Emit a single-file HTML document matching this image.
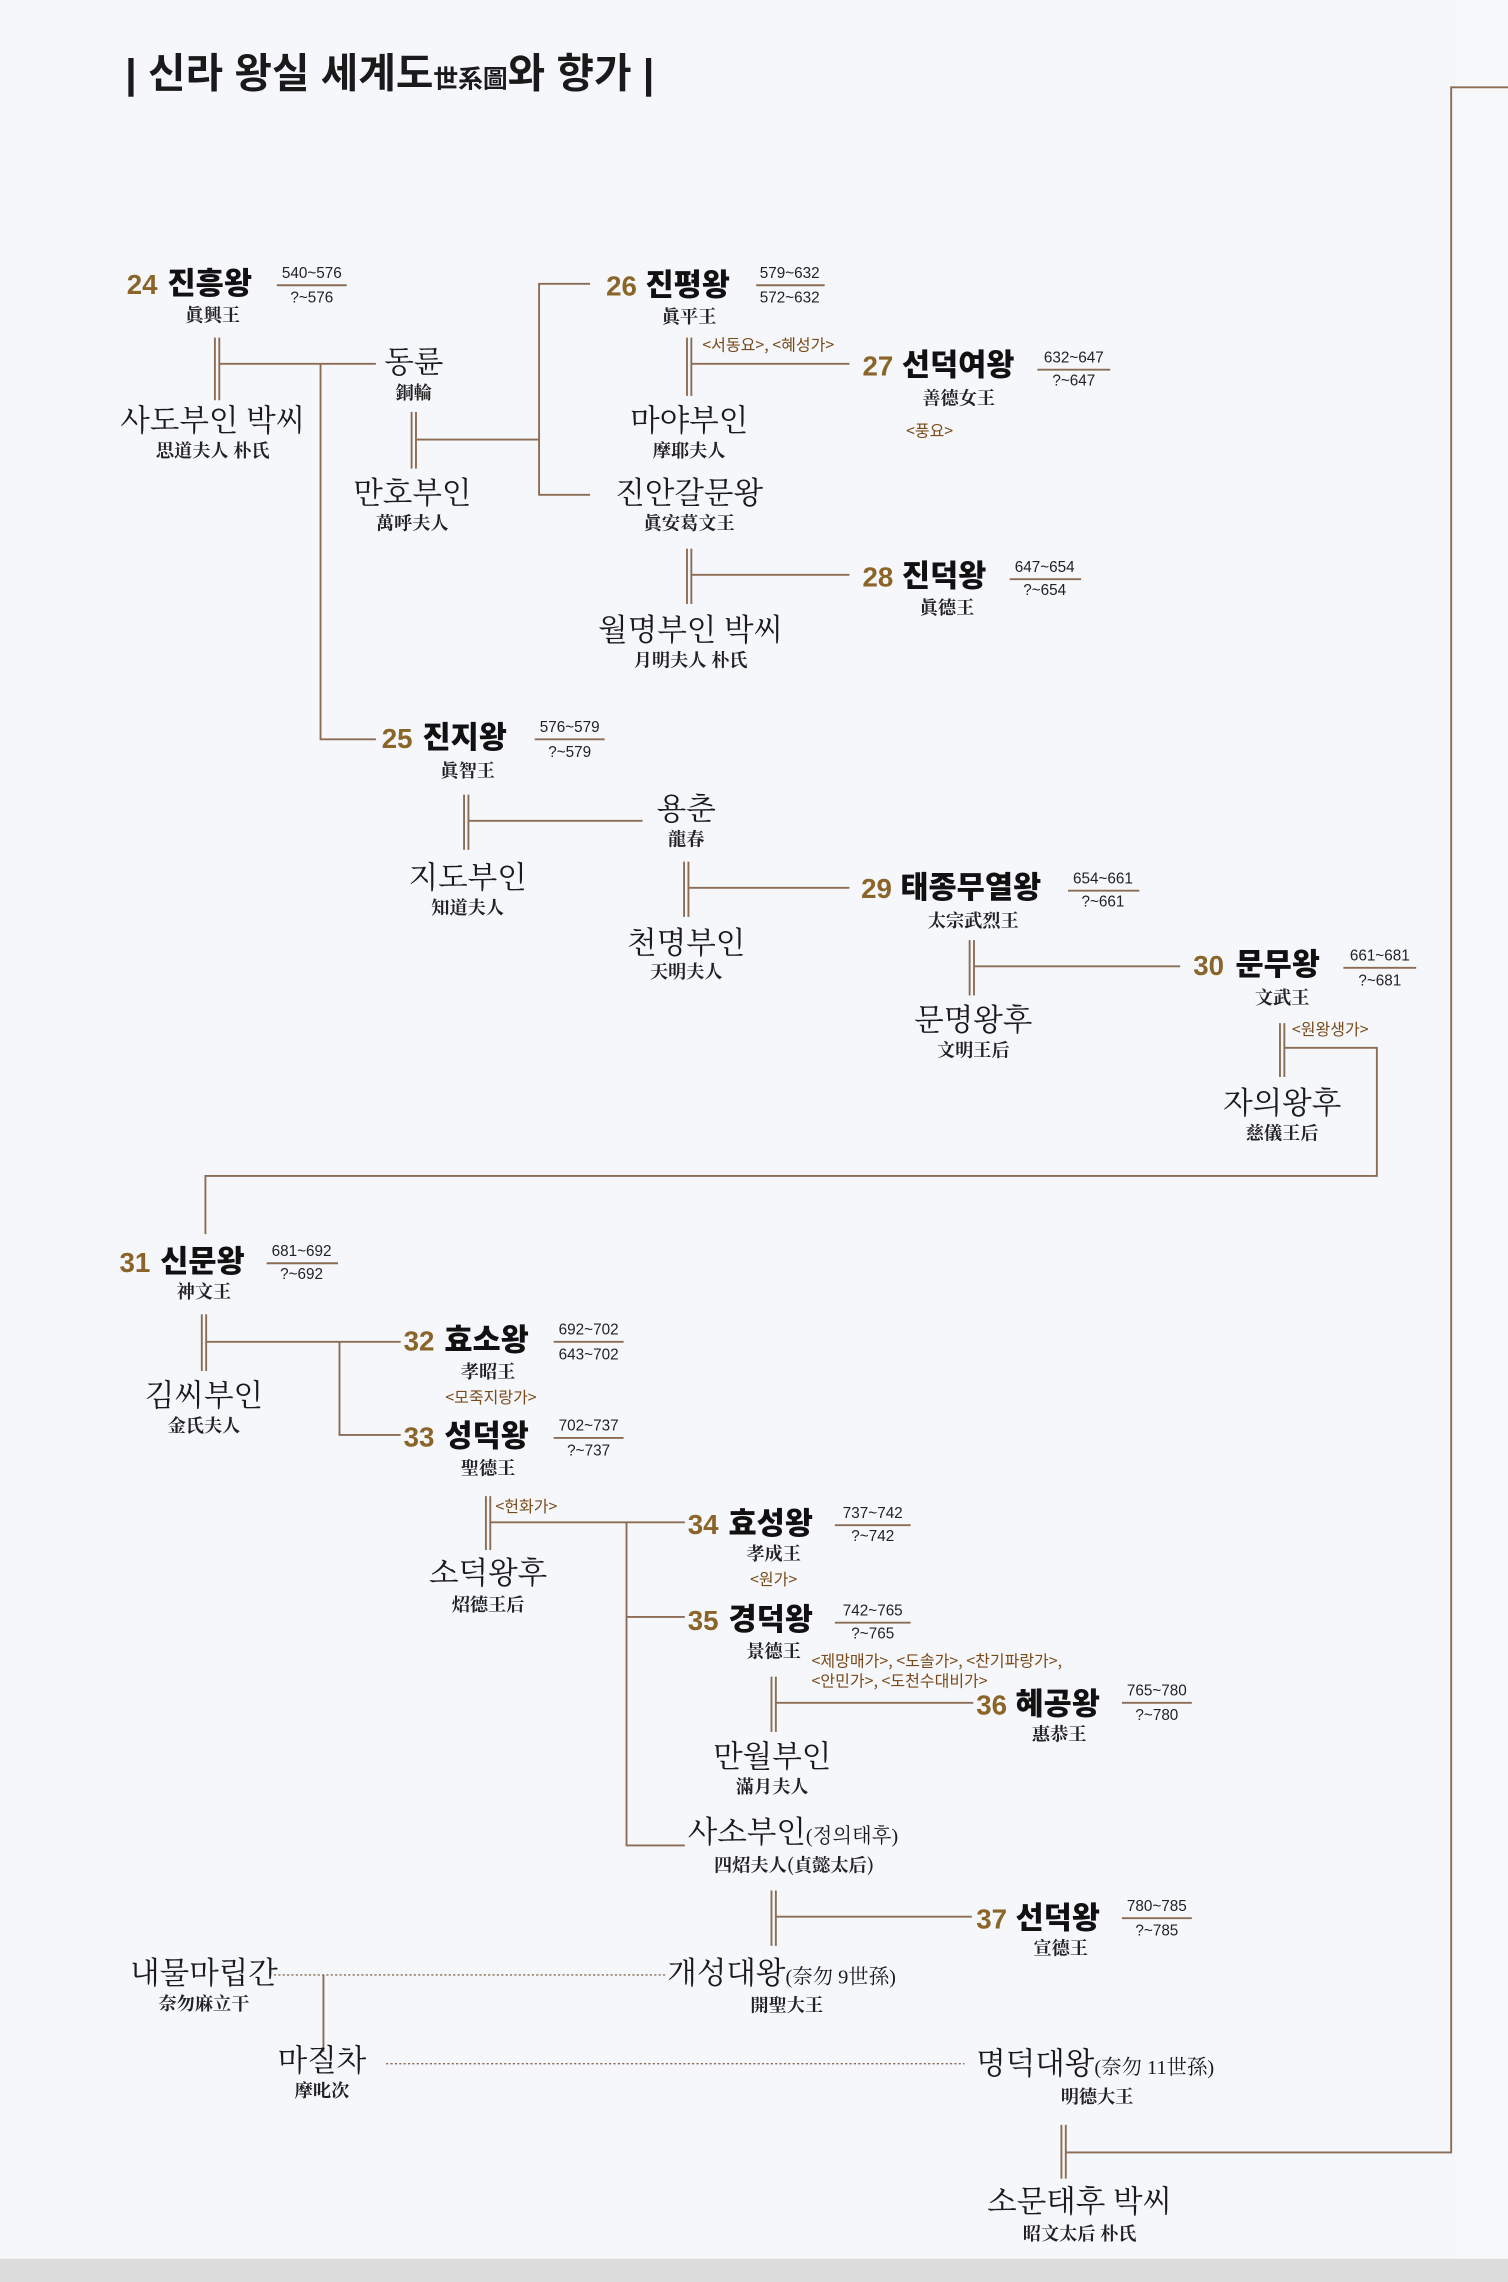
<!DOCTYPE html>
<html><head><meta charset="utf-8"><style>
html,body{margin:0;padding:0;background:#f5f7fa;}
svg{display:block}
.t{font-family:"Liberation Sans","Noto Sans CJK KR",sans-serif;font-weight:bold;fill:#1a1a1a;}
.n{font-family:"Liberation Sans","Noto Sans CJK KR",sans-serif;font-weight:bold;fill:#8a6428;font-size:19px;}
.k{font-family:"Noto Sans CJK KR",sans-serif;font-weight:900;fill:#111;font-size:21px;}
.d{font-family:"Liberation Sans",sans-serif;fill:#222;font-size:10.5px;text-anchor:middle;}
.h{font-family:"Noto Serif CJK SC",serif;font-weight:bold;fill:#222;font-size:12.5px;text-anchor:middle;}
.p{font-family:"Liberation Serif","Noto Serif CJK KR",serif;fill:#1a1a1a;font-size:21px;text-anchor:middle;}
.s{font-family:"Noto Sans CJK KR",sans-serif;fill:#7a4a1a;font-size:11px;}
.l{stroke:#8b6d55;stroke-width:1.3;fill:none;}
.dl{stroke:#8b6d55;stroke-width:1;fill:none;stroke-dasharray:1.5 1.5;}
</style></head><body>
<svg width="1508" height="2282" viewBox="0 0 1035 1568" preserveAspectRatio="none" xmlns="http://www.w3.org/2000/svg">
<rect x="0" y="0" width="1035" height="1568" fill="#f5f7fa"/>
<rect x="0" y="1552" width="1035" height="16" fill="#dcdcdc"/>
<rect x="1000" y="0" width="35" height="1552" fill="#f7f8fa"/>

<text x="86" y="60" class="t" font-size="28">| 신라 왕실 세계도<tspan font-size="17">世系圖</tspan>와 향가 |</text>

<g class="l">
<path d="M147.5 232V275M150.5 232V275M150 250H258"/>
<path d="M220 250V508H258"/>
<path d="M282.5 283V322M285.5 283V322M285 302H370"/>
<path d="M405 195H370V340H405"/>
<path d="M471.5 232V272M474.5 232V272M474 250H583"/>
<path d="M471.5 377V415M474.5 377V415M474 395H583"/>
<path d="M318.5 546V584M321.5 546V584M321 564H441"/>
<path d="M469.5 592V630M472.5 592V630M472 610H583"/>
<path d="M665.5 646V684M668.5 646V684M668 664H810"/>
<path d="M878.5 703V740M881.5 703V740M881 720H945V808H141V848"/>
<path d="M138.5 903V942M141.5 903V942M141 922H275M233 922V986H275"/>
<path d="M333.5 1028V1065M336.5 1028V1065M336 1046H470M430 1046V1268H470M430 1111H470"/>
<path d="M529.5 1152V1190M532.5 1152V1190M532 1170H668"/>
<path d="M529.5 1299V1337M532.5 1299V1337M532 1317H667"/>
<path d="M728.5 1460V1497M731.5 1460V1497M731 1479H996V60H1035"/>
<path d="M222 1357V1410"/>
</g>
<g class="dl">
<path d="M188 1357H457"/>
<path d="M265 1418H662"/>
</g>

<g class="l">
<path d="M190 196H238M519 196H566M712 254H762M693 398H742M367 508H415M733 612H782M922 665H972M183 868H232M380 922H428M380 988H428M573 1048H625M573 1115H625M770 1170H818M770 1318H818"/>
</g>
<g class="d">
<text x="214" y="191">540~576</text><text x="214" y="208">?~576</text>
<text x="542" y="191">579~632</text><text x="542" y="208">572~632</text>
<text x="737" y="249">632~647</text><text x="737" y="265">?~647</text>
<text x="717" y="393">647~654</text><text x="717" y="409">?~654</text>
<text x="391" y="503">576~579</text><text x="391" y="520">?~579</text>
<text x="757" y="607">654~661</text><text x="757" y="623">?~661</text>
<text x="947" y="660">661~681</text><text x="947" y="677">?~681</text>
<text x="207" y="863">681~692</text><text x="207" y="879">?~692</text>
<text x="404" y="917">692~702</text><text x="404" y="934">643~702</text>
<text x="404" y="983">702~737</text><text x="404" y="1000">?~737</text>
<text x="599" y="1043">737~742</text><text x="599" y="1059">?~742</text>
<text x="599" y="1110">742~765</text><text x="599" y="1126">?~765</text>
<text x="794" y="1165">765~780</text><text x="794" y="1182">?~780</text>
<text x="794" y="1313">780~785</text><text x="794" y="1330">?~785</text>
</g>

<text x="87" y="202" class="n">24</text><text x="115" y="202" class="k">진흥왕</text><text x="146" y="221" class="h">眞興王</text>
<text x="416" y="203" class="n">26</text><text x="443" y="203" class="k">진평왕</text><text x="473" y="222" class="h">眞平王</text>
<text x="592" y="258" class="n">27</text><text x="619" y="258" class="k">선덕여왕</text><text x="658" y="278" class="h">善德女王</text>
<text x="592" y="403" class="n">28</text><text x="619" y="403" class="k">진덕왕</text><text x="650" y="422" class="h">眞德王</text>
<text x="262" y="514" class="n">25</text><text x="290" y="514" class="k">진지왕</text><text x="321" y="534" class="h">眞智王</text>
<text x="591" y="617" class="n">29</text><text x="618" y="617" class="k">태종무열왕</text><text x="668" y="637" class="h">太宗武烈王</text>
<text x="819" y="670" class="n">30</text><text x="848" y="670" class="k">문무왕</text><text x="880" y="690" class="h">文武王</text>
<text x="82" y="874" class="n">31</text><text x="110" y="874" class="k">신문왕</text><text x="140" y="892" class="h">神文王</text>
<text x="277" y="928" class="n">32</text><text x="305" y="928" class="k">효소왕</text><text x="335" y="947" class="h">孝昭王</text>
<text x="277" y="994" class="n">33</text><text x="305" y="994" class="k">성덕왕</text><text x="335" y="1013" class="h">聖德王</text>
<text x="472" y="1054" class="n">34</text><text x="500" y="1054" class="k">효성왕</text><text x="531" y="1072" class="h">孝成王</text>
<text x="472" y="1120" class="n">35</text><text x="500" y="1120" class="k">경덕왕</text><text x="531" y="1139" class="h">景德王</text>
<text x="670" y="1178" class="n">36</text><text x="697" y="1178" class="k">혜공왕</text><text x="727" y="1196" class="h">惠恭王</text>
<text x="670" y="1325" class="n">37</text><text x="697" y="1325" class="k">선덕왕</text><text x="728" y="1343" class="h">宣德王</text>

<text x="482" y="241" class="s">&lt;서동요&gt;, &lt;혜성가&gt;</text>
<text x="638" y="300" class="s" style="text-anchor:middle">&lt;풍요&gt;</text>
<text x="913" y="711" class="s" style="text-anchor:middle">&lt;원왕생가&gt;</text>
<text x="337" y="964" class="s" style="text-anchor:middle">&lt;모죽지랑가&gt;</text>
<text x="340" y="1039" class="s">&lt;헌화가&gt;</text>
<text x="531" y="1089" class="s" style="text-anchor:middle">&lt;원가&gt;</text>
<text x="557" y="1145" class="s">&lt;제망매가&gt;, &lt;도솔가&gt;, &lt;찬기파랑가&gt;,</text>
<text x="557" y="1159" class="s">&lt;안민가&gt;, &lt;도천수대비가&gt;</text>

<text x="146" y="296" class="p">사도부인 박씨</text><text x="146" y="314" class="h">思道夫人 朴氏</text>
<text x="284" y="256" class="p">동륜</text><text x="284" y="274" class="h">銅輪</text>
<text x="283" y="346" class="p">만호부인</text><text x="283" y="364" class="h">萬呼夫人</text>
<text x="473" y="296" class="p">마야부인</text><text x="473" y="314" class="h">摩耶夫人</text>
<text x="473" y="346" class="p">진안갈문왕</text><text x="473" y="364" class="h">眞安葛文王</text>
<text x="474" y="440" class="p">월명부인 박씨</text><text x="474" y="458" class="h">月明夫人 朴氏</text>
<text x="471" y="563" class="p">용춘</text><text x="471" y="581" class="h">龍春</text>
<text x="321" y="610" class="p">지도부인</text><text x="321" y="628" class="h">知道夫人</text>
<text x="471" y="655" class="p">천명부인</text><text x="471" y="672" class="h">天明夫人</text>
<text x="668" y="708" class="p">문명왕후</text><text x="668" y="726" class="h">文明王后</text>
<text x="880" y="765" class="p">자의왕후</text><text x="880" y="783" class="h">慈儀王后</text>
<text x="140" y="966" class="p">김씨부인</text><text x="140" y="984" class="h">金氏夫人</text>
<text x="335" y="1088" class="p">소덕왕후</text><text x="335" y="1107" class="h">炤德王后</text>
<text x="530" y="1214" class="p">만월부인</text><text x="530" y="1232" class="h">滿月夫人</text>
<text x="472" y="1266" class="p" style="text-anchor:start">사소부인<tspan font-size="14">(정의태후)</tspan></text><text x="545" y="1286" class="h">四炤夫人(貞懿太后)</text>
<text x="140" y="1363" class="p">내물마립간</text><text x="140" y="1381" class="h">奈勿麻立干</text>
<text x="458" y="1363" class="p" style="text-anchor:start">개성대왕<tspan font-size="14">(奈勿 9世孫)</tspan></text><text x="540" y="1382" class="h">開聖大王</text>
<text x="221" y="1423" class="p">마질차</text><text x="221" y="1441" class="h">摩叱次</text>
<text x="670" y="1425" class="p" style="text-anchor:start">명덕대왕<tspan font-size="14">(奈勿 11世孫)</tspan></text><text x="753" y="1445" class="h">明德大王</text>
<text x="741" y="1520" class="p">소문태후 박씨</text><text x="741" y="1539" class="h">昭文太后 朴氏</text>
</svg>
</body></html>
